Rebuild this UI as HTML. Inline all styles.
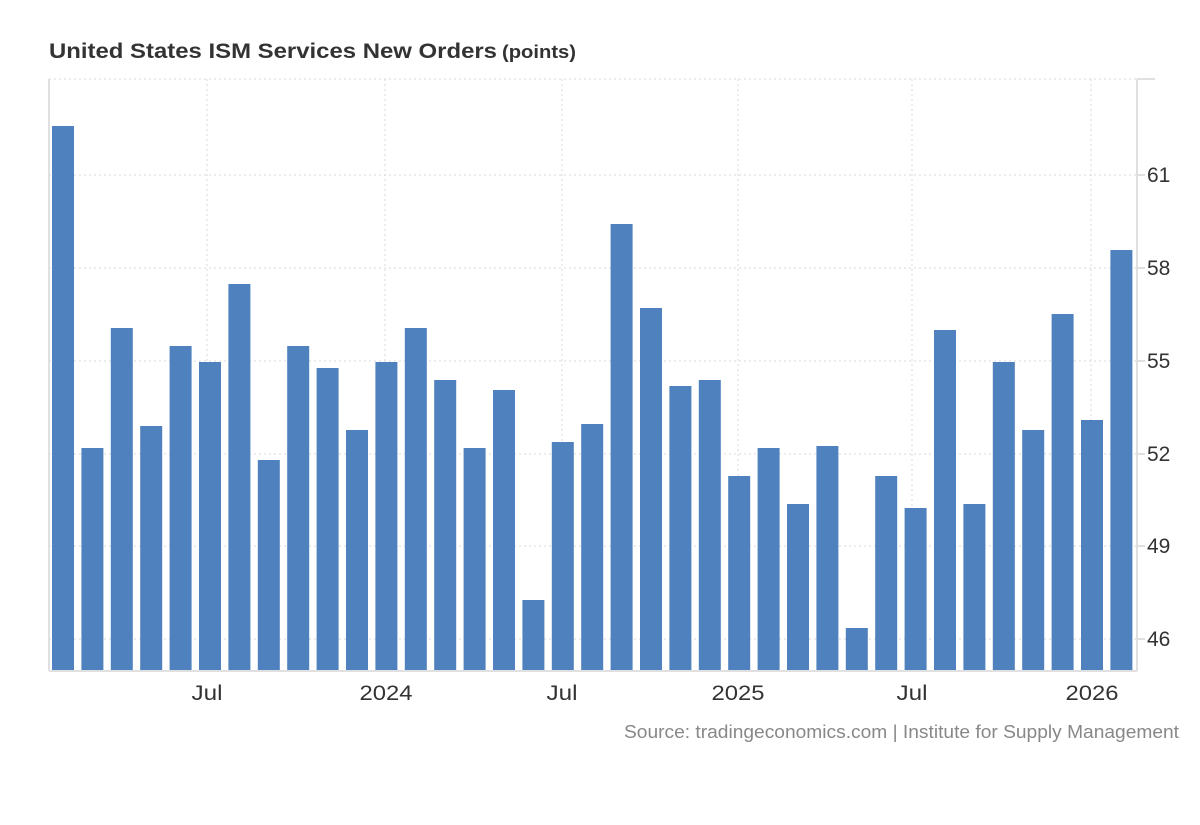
<!DOCTYPE html>
<html><head><meta charset="utf-8"><style>
body{margin:0;background:#fff;width:1200px;height:820px;overflow:hidden;font-family:"Liberation Sans",Arial,sans-serif}
</style></head><body>
<svg width="1200" height="820" xmlns="http://www.w3.org/2000/svg" font-family="Liberation Sans, Arial, sans-serif">
<text x="49" y="58" font-size="21" font-weight="bold" fill="#333" textLength="448" lengthAdjust="spacingAndGlyphs">United States ISM Services New Orders</text>
<text x="502" y="58" font-size="18" font-weight="bold" fill="#333" textLength="74" lengthAdjust="spacingAndGlyphs">(points)</text>
<g stroke="#d8d8d8" stroke-width="1" stroke-dasharray="2,3">
<line x1="49" y1="79" x2="1137" y2="79"/>
<line x1="49" y1="175" x2="1137" y2="175"/>
<line x1="49" y1="268" x2="1137" y2="268"/>
<line x1="49" y1="361" x2="1137" y2="361"/>
<line x1="49" y1="454" x2="1137" y2="454"/>
<line x1="49" y1="546" x2="1137" y2="546"/>
<line x1="49" y1="639" x2="1137" y2="639"/>
<line x1="207" y1="79" x2="207" y2="670"/>
<line x1="385" y1="79" x2="385" y2="670"/>
<line x1="562" y1="79" x2="562" y2="670"/>
<line x1="738" y1="79" x2="738" y2="670"/>
<line x1="912" y1="79" x2="912" y2="670"/>
<line x1="1091" y1="79" x2="1091" y2="670"/>
</g>
<g stroke="#e0e0e0" stroke-width="2">
<line x1="49" y1="79" x2="49" y2="671"/>
<line x1="49" y1="671" x2="1137" y2="671"/>
<line x1="1137" y1="79" x2="1137" y2="671"/>
<line x1="1137" y1="79" x2="1155" y2="79"/>
<line x1="1137" y1="175" x2="1145" y2="175"/>
<line x1="1137" y1="268" x2="1145" y2="268"/>
<line x1="1137" y1="361" x2="1145" y2="361"/>
<line x1="1137" y1="454" x2="1145" y2="454"/>
<line x1="1137" y1="546" x2="1145" y2="546"/>
<line x1="1137" y1="639" x2="1145" y2="639"/>
</g>
<g fill="#4e81bd" id="bars"></g>
<g font-size="21" fill="#333">
<text x="1147" y="182">61</text>
<text x="1147" y="275">58</text>
<text x="1147" y="368">55</text>
<text x="1147" y="461">52</text>
<text x="1147" y="553">49</text>
<text x="1147" y="646">46</text>
</g>
<g font-size="21" fill="#333" text-anchor="middle">
<text x="207" y="700" textLength="31" lengthAdjust="spacingAndGlyphs">Jul</text>
<text x="386" y="700" textLength="53" lengthAdjust="spacingAndGlyphs">2024</text>
<text x="562" y="700" textLength="31" lengthAdjust="spacingAndGlyphs">Jul</text>
<text x="738" y="700" textLength="53" lengthAdjust="spacingAndGlyphs">2025</text>
<text x="912" y="700" textLength="31" lengthAdjust="spacingAndGlyphs">Jul</text>
<text x="1092" y="700" textLength="53" lengthAdjust="spacingAndGlyphs">2026</text>
</g>
<text x="624" y="738" font-size="18" fill="#888" textLength="555" lengthAdjust="spacingAndGlyphs">Source: tradingeconomics.com | Institute for Supply Management</text>
</svg>
<script>
var tops=[126,448,328,426,346,362,284,460,346,368,430,362,328,380,448,390,600,442,424,224,308,386,380,476,448,504,446,628,476,508,330,504,362,430,314,420,250];
var g=document.getElementById('bars'),s='';
tops.forEach(function(t,i){var x=52+i*29.4;s+='<rect x="'+x.toFixed(1)+'" y="'+t+'" width="22" height="'+(670-t)+'"/>';});
g.innerHTML=s;
</script>
</body></html>
